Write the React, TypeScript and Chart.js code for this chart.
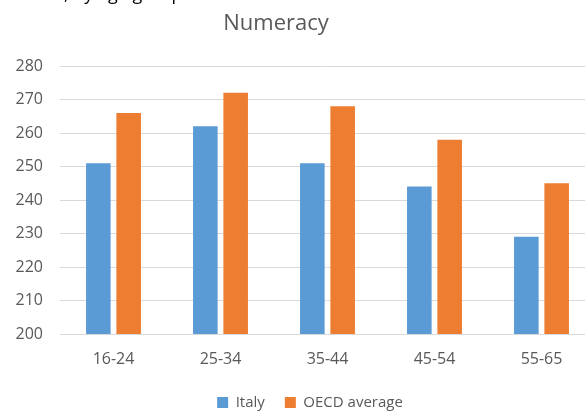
import React, { useEffect, useRef } from "react";
import { Chart, registerables } from "chart.js";

Chart.register(...registerables);

const categories = ["16-24", "25-34", "35-44", "45-54", "55-65"];
const italyValues = [251, 262, 251, 244, 229];
const oecdValues = [266, 272, 268, 258, 245];
const yTickValues = [200, 210, 220, 230, 240, 250, 260, 270, 280];
const seriesNames = ["Italy", "OECD average"];
const chartTitle = "Numeracy";
const captionFragment = ", by age group";

const FONT = "'Open Sans', 'Liberation Sans', sans-serif";
const GREY = "#595959";

export default function App() {
  const canvasRef = useRef<HTMLCanvasElement>(null);

  useEffect(() => {
    document.body.style.margin = "0";
    const canvas = canvasRef.current;
    if (!canvas) return;
    const chart = new Chart(canvas, {
      type: "bar",
      data: {
        labels: categories,
        datasets: [
          { label: seriesNames[0], data: italyValues, backgroundColor: "#5B9BD5", borderWidth: 0 },
          { label: seriesNames[1], data: oecdValues, backgroundColor: "#ED7D31", borderWidth: 0 },
        ],
      },
      options: {
        animation: false,
        responsive: false,
        maintainAspectRatio: false,
        layout: { padding: { top: 66, right: 0, left: 0, bottom: -8 } },
        datasets: { bar: { categoryPercentage: 0.567, barPercentage: 0.81 } },
        scales: {
          x: {
            grid: { display: false, drawTicks: false },
            border: { display: false },
            afterFit: (s: any) => { s.height = 41; },
            ticks: { padding: 16, color: GREY, font: { family: FONT, size: 16 } },
          },
          y: {
            min: 200,
            max: 280,
            afterFit: (s: any) => { s.width = 60; },
            afterBuildTicks: (s: any) => { s.ticks = yTickValues.map((v) => ({ value: v })); },
            grid: { color: "#d9d9d9", lineWidth: 1, drawTicks: false },
            border: { display: false },
            ticks: { padding: 17, color: GREY, font: { family: FONT, size: 16 } },
          },
          yRightSpacer: {
            position: "right",
            display: true,
            min: 200,
            max: 280,
            afterFit: (s: any) => { s.width = 25; },
            grid: { display: false, drawTicks: false },
            border: { display: false },
            ticks: { display: false },
          },
        },
        plugins: {
          legend: {
            position: "bottom",
            labels: {
              boxWidth: 11,
              boxHeight: 11,
              padding: 20,
              color: GREY,
              font: { family: FONT, size: 15 },
            },
          },
          title: { display: false },
          tooltip: { enabled: false },
        },
      },
    });
    return () => chart.destroy();
  }, []);

  return (
    <div style={{ position: "relative", width: 585, height: 412, overflow: "hidden", background: "#fff" }}>
      <div
        style={{
          position: "absolute",
          left: 64,
          top: -19,
          fontFamily: FONT,
          fontSize: 18,
          lineHeight: "24px",
          color: "#000",
          whiteSpace: "nowrap",
        }}
      >
        {captionFragment}
      </div>
      <div
        style={{
          position: "absolute",
          left: 0,
          top: 6,
          width: 552,
          textAlign: "center",
          fontFamily: FONT,
          fontSize: 22,
          lineHeight: "30px",
          color: GREY,
        }}
      >
        {chartTitle}
      </div>
      <canvas ref={canvasRef} width={620} height={412} style={{ display: "block", width: 620, height: 412 }} />
    </div>
  );
}
